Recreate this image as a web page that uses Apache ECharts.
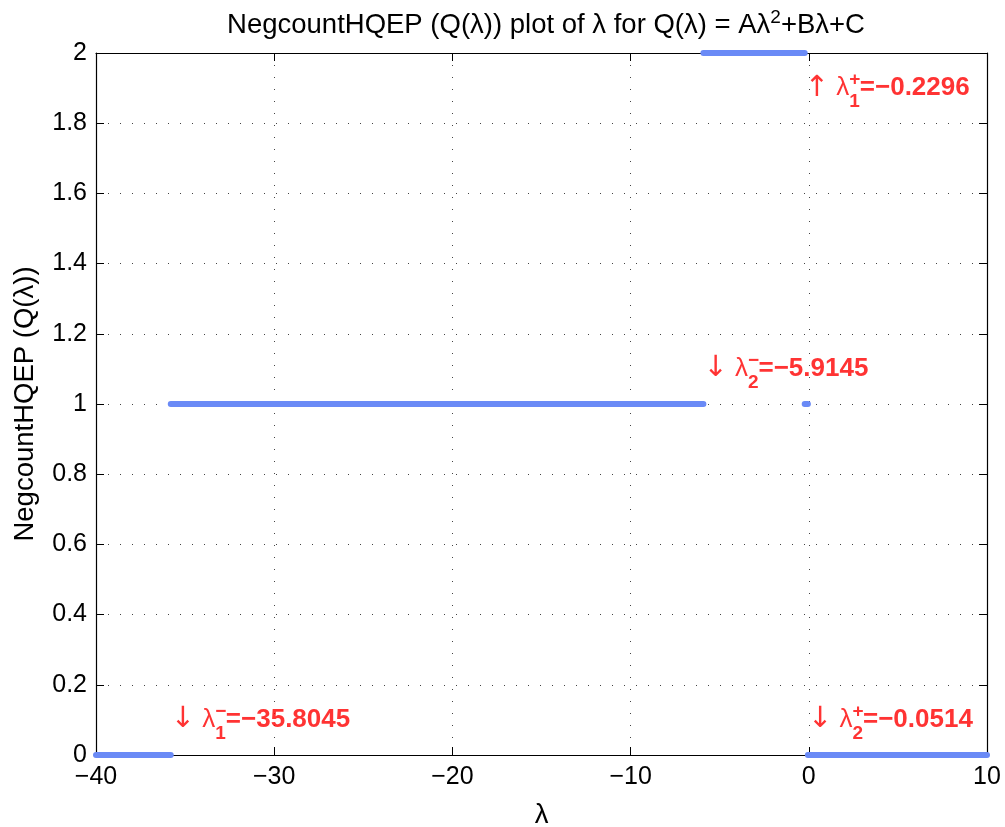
<!DOCTYPE html>
<html>
<head>
<meta charset="utf-8">
<script src="https://cdn.jsdelivr.net/npm/echarts@6/dist/echarts.min.js"></script>
<style>
  html, body { margin: 0; padding: 0; background: #fff; }
  #chart { width: 1005px; height: 827px; }
</style>
</head>
<body>
<div id="chart"></div>
<script>
// eigenvalue boundaries where the count changes
const rootValues = [-35.8045, -5.9145, -0.2296, -0.0514]
// count on each interval of lambda
const segStart = [-40, -35.8045, -5.9145, -0.2296, -0.0514]
const segEnd = [-35.8045, -5.9145, -0.2296, -0.0514, 10]
const segCount = [0, 1, 2, 1, 0]

// annotations: y position of each label and the symbol pieces
const annotY = [0.1, 1.1, 1.9, 0.1]
const annotArrow = ['↓', '↓', '↑', '↓']
const annotSub = ['1', '2', '1', '2']
const annotSup = ['−', '−', '+', '+']

const xTicks = [-40, -30, -20, -10, 0, 10]
const yTicks = [0, 0.2, 0.4, 0.6, 0.8, 1, 1.2, 1.4, 1.6, 1.8, 2]

const FONT = "'Liberation Sans', Arial, Helvetica, sans-serif"
const ARROW_FONT = "'DejaVu Sans', sans-serif"
const BLUE = '#6a8af6'
const RED = '#ff0000'

const minus = s => String(s).replace('-', '−')

const chart = echarts.init(document.getElementById('chart'))

const segSeries = segStart.map((s, i) => ({
  type: 'line',
  data: [[s, segCount[i]], [segEnd[i], segCount[i]]],
  showSymbol: false,
  clip: false,
  silent: true,
  lineStyle: { color: BLUE, width: 6, cap: 'round' },
  z: 5
}))

const mainRich = {
  ar: { fontFamily: ARROW_FONT, fontSize: 29, color: RED, lineHeight: 48, height: 48 },
  lam: { fontFamily: FONT, fontSize: 26, color: RED, lineHeight: 48, height: 48 },
  sub: { fontFamily: FONT, fontSize: 19, fontWeight: 'bold', color: RED, verticalAlign: 'bottom', lineHeight: 20, height: 20 },
  val: { fontFamily: FONT, fontSize: 26, fontWeight: 'bold', color: RED, lineHeight: 48, height: 48 }
}
const supRich = {
  ar: { fontFamily: ARROW_FONT, fontSize: 29, color: 'rgba(0,0,0,0)', lineHeight: 48, height: 48 },
  lam: { fontFamily: FONT, fontSize: 26, color: 'rgba(0,0,0,0)', lineHeight: 48, height: 48 },
  sup: { fontFamily: FONT, fontSize: 19, fontWeight: 'bold', color: RED, verticalAlign: 'top', lineHeight: 32, height: 32 }
}

const annotMain = {
  type: 'scatter',
  symbolSize: 0,
  silent: true,
  clip: false,
  data: rootValues.map((v, i) => ({
    value: [v, annotY[i]],
    label: {
      show: true,
      position: 'right',
      distance: 0,
      formatter: '{ar|' + annotArrow[i] + '}{lam| λ}{sub|' + annotSub[i] + '}{val|=' + minus(v) + '}',
      rich: mainRich
    }
  })),
  z: 10
}
const annotSupSeries = {
  type: 'scatter',
  symbolSize: 0,
  silent: true,
  clip: false,
  data: rootValues.map((v, i) => ({
    value: [v, annotY[i]],
    label: {
      show: true,
      position: 'right',
      distance: 0,
      formatter: '{ar|' + annotArrow[i] + '}{lam| λ}{sup|' + annotSup[i] + '}',
      rich: supRich
    }
  })),
  z: 10
}

const tickStyle = { show: true, inside: true, length: 8, lineStyle: { color: '#000', width: 1 } }
const axisLineStyle = { show: true, onZero: false, lineStyle: { color: '#000', width: 1.2 } }
const gridLine = { show: true, lineStyle: { color: '#444', width: 1, type: [1, 11] } }

const option = {
  animation: false,
  backgroundColor: '#fff',
  title: {
    text: '{t|NegcountHQEP (Q(λ)) plot of λ for Q(λ) = Aλ}{sup|2}{t|+Bλ+C}',
    left: 541,
    top: 2,
    textAlign: 'center',
    textStyle: {
      fontFamily: FONT, fontSize: 27.5, fontWeight: 'normal', color: '#000',
      rich: {
        t: { fontFamily: FONT, fontSize: 27.5, color: '#000', lineHeight: 36, height: 36 },
        sup: { fontFamily: FONT, fontSize: 19, color: '#000', verticalAlign: 'top', lineHeight: 22, height: 22 }
      }
    }
  },
  grid: { left: 96, right: 18, top: 53, bottom: 72, outerBoundsMode: 'none', containLabel: false },
  xAxis: [
    {
      type: 'value', min: -40, max: 10, interval: 10, position: 'bottom',
      name: 'λ', nameLocation: 'middle', nameGap: 46,
      nameTextStyle: { fontFamily: FONT, fontSize: 27.5, color: '#000' },
      axisLine: axisLineStyle, axisTick: tickStyle, splitLine: gridLine,
      axisLabel: {
        fontFamily: FONT, fontSize: 25, color: '#000', margin: 10,
        formatter: v => xTicks.indexOf(v) >= 0 ? minus(v) : ''
      }
    },
    {
      type: 'value', min: -40, max: 10, interval: 10, position: 'top',
      axisLine: axisLineStyle, axisTick: tickStyle,
      axisLabel: { show: false }, splitLine: { show: false }
    }
  ],
  yAxis: [
    {
      type: 'value', min: 0, max: 2, interval: 0.2, position: 'left',
      name: 'NegcountHQEP (Q(λ))', nameLocation: 'middle', nameGap: 57,
      nameTextStyle: { fontFamily: FONT, fontSize: 27.5, color: '#000' },
      axisLine: axisLineStyle, axisTick: tickStyle, splitLine: gridLine,
      axisLabel: {
        fontFamily: FONT, fontSize: 25, color: '#000', margin: 9,
        formatter: v => {
          const t = yTicks.find(y => Math.abs(y - v) < 1e-9)
          return t === undefined ? '' : String(t)
        }
      }
    },
    {
      type: 'value', min: 0, max: 2, interval: 0.2, position: 'right',
      axisLine: axisLineStyle, axisTick: tickStyle,
      axisLabel: { show: false }, splitLine: { show: false }
    }
  ],
  series: segSeries.concat([annotMain, annotSupSeries])
}

chart.setOption(option)
</script>
</body>
</html>
